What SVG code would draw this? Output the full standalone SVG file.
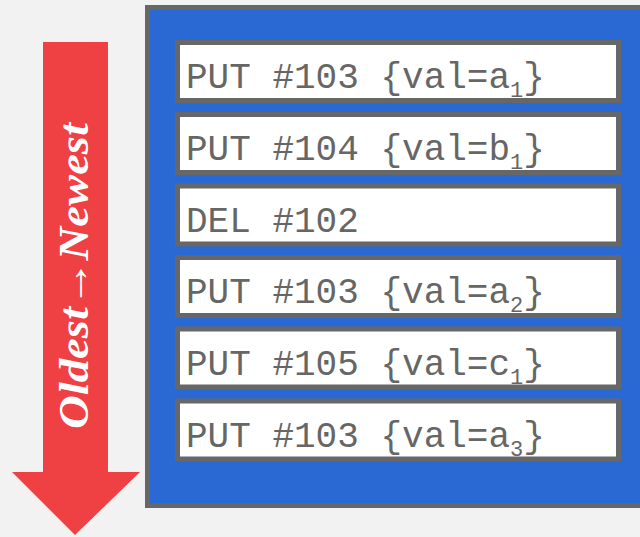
<svg xmlns="http://www.w3.org/2000/svg" width="640" height="537" viewBox="0 0 640 537">
<style>
.entry rect{fill:#ffffff;stroke:#676767;stroke-width:5}
.entry text{font-family:"Liberation Mono","DejaVu Sans Mono",monospace;font-size:36px;fill:#666666}
.sub{font-size:22px}
</style>
<rect x="0" y="0" width="640" height="537" fill="#f2f2f2"/>
<g id="arrow">
<polygon points="43,42 108,42 108,472 140,472 75,535 12,472 43,472" fill="#ef4044"/>
<text transform="translate(88,276) rotate(-90)" text-anchor="middle" font-family="Liberation Serif, serif" font-style="italic" font-weight="bold" font-size="42" fill="#ffffff" textLength="306" lengthAdjust="spacingAndGlyphs">Oldest→Newest</text>
</g>
<g id="log">
<rect x="147.5" y="7.5" width="500" height="498" fill="#2a69d4" stroke="#676767" stroke-width="5"/>
</g>
<g id="e1" class="entry"><rect x="177.5" y="42.5" width="441" height="58"/><text x="186" y="88">PUT #103 {val=a<tspan class="sub" dy="9">1</tspan><tspan dy="-9">}</tspan></text></g>
<g id="e2" class="entry"><rect x="177.5" y="114.5" width="441" height="58"/><text x="186" y="160">PUT #104 {val=b<tspan class="sub" dy="9">1</tspan><tspan dy="-9">}</tspan></text></g>
<g id="e3" class="entry"><rect x="177.5" y="186" width="441" height="58"/><text x="186" y="231.5">DEL #102</text></g>
<g id="e4" class="entry"><rect x="177.5" y="257.5" width="441" height="58"/><text x="186" y="303">PUT #103 {val=a<tspan class="sub" dy="9">2</tspan><tspan dy="-9">}</tspan></text></g>
<g id="e5" class="entry"><rect x="177.5" y="329" width="441" height="58"/><text x="186" y="374.5">PUT #105 {val=c<tspan class="sub" dy="9">1</tspan><tspan dy="-9">}</tspan></text></g>
<g id="e6" class="entry"><rect x="177.5" y="401" width="441" height="58"/><text x="186" y="446.5">PUT #103 {val=a<tspan class="sub" dy="9">3</tspan><tspan dy="-9">}</tspan></text></g>
<g id="connectors"/>
</svg>
